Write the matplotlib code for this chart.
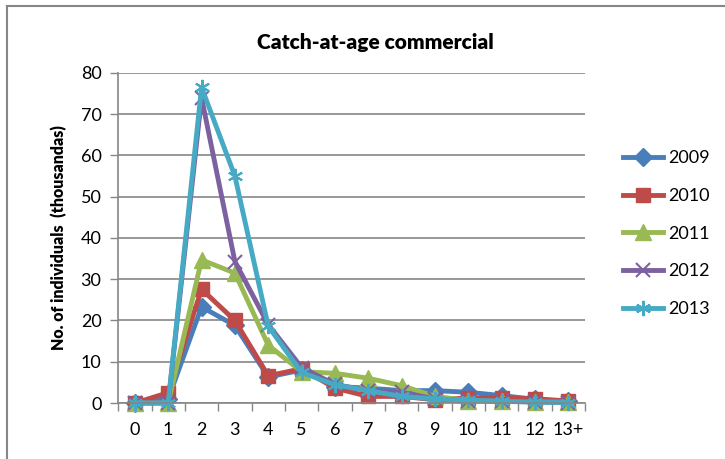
import matplotlib.pyplot as plt
from matplotlib.lines import Line2D

# --- データ ---
ages = ['0', '1', '2', '3', '4', '5', '6', '7', '8', '9', '10', '11', '12', '13+']
c2009 = [0, 1.0, 23.3, 18.8, 6.3, 8.0, 4.0, 3.6, 3.0, 3.0, 2.6, 1.8, 0.9, 0.4]
c2010 = [0, 2.5, 27.6, 20.0, 6.6, 8.3, 3.6, 1.6, 1.6, 0.8, 1.2, 1.2, 1.0, 0.5]
c2011 = [0, 0, 34.7, 31.5, 14.0, 7.6, 7.2, 6.0, 4.2, 1.6, 0.6, 0.4, 0.3, 0.2]
c2012 = [0, 0, 74.0, 34.3, 19.0, 8.6, 4.5, 3.0, 2.6, 1.0, 0.6, 0.4, 0.3, 0.1]
c2013 = [0, 0, 76.5, 55.0, 18.6, 7.4, 4.4, 3.0, 1.6, 1.0, 0.7, 0.4, 0.2, 0.1]
years = ['2009', '2010', '2011', '2012', '2013']

plt.rcParams['font.family'] = ['Lato', 'DejaVu Sans']

fig = plt.figure(figsize=(7.25, 4.59), dpi=100)
ax = fig.add_axes([0.163, 0.122, 0.644, 0.719])

styles = [
    ('#4A7EBB', 'D', 9),
    ('#BE4B48', 's', 10),
    ('#98B954', '^', 11),
    ('#7D60A0', 'x', 10),
    ('#46AAC5', (6, 2, 0), 11),
]
series = [c2009, c2010, c2011, c2012, c2013]
x = list(range(len(ages)))
for vals, yr, (col, mk, ms) in zip(series, years, styles):
    ax.plot(x, vals, color=col, lw=3.5, marker=mk, markersize=ms,
            markeredgewidth=1.5 if mk in ('x', (6, 2, 0)) else 1,
            markeredgecolor=col, markerfacecolor=col, label=yr,
            clip_on=False)

ax.set_xlim(-0.5, len(ages) - 0.5)
ax.set_ylim(0, 80)
ax.set_yticks(range(0, 81, 10))
ax.set_xticks(x)
ax.set_xticklabels(ages)
ax.set_xticks([i - 0.5 for i in range(len(ages) + 1)], minor=True)
ax.tick_params(axis='x', which='major', length=0, pad=14, labelsize=13)
ax.tick_params(axis='x', which='minor', length=6, color='#868686', width=1)
ax.tick_params(axis='y', length=6, color='#868686', width=1, labelsize=13, pad=6)
ax.grid(axis='y', color='#868686', lw=1.2)
ax.set_axisbelow(True)
for s in ['top', 'right']:
    ax.spines[s].set_visible(False)
for s in ['left', 'bottom']:
    ax.spines[s].set_color('#868686')
    ax.spines[s].set_linewidth(1.2)

ax.set_ylabel('No. of individuals  (thousandas)', fontsize=11.5, fontweight='heavy', labelpad=10)
fig.text(375 / 725, 1 - 43 / 459, 'Catch-at-age commercial', ha='center', va='center',
         fontsize=15, fontweight='heavy')

ax.legend(loc='upper left', bbox_to_anchor=(607 / 725, 1 - 134 / 459),
          bbox_transform=fig.transFigure, frameon=False, fontsize=13,
          handlelength=2.2, labelspacing=1.2, handletextpad=0.3)

# 外枠（上と左のみ）
fig.add_artist(Line2D([7 / 725, 1], [1 - 6 / 459, 1 - 6 / 459], color='#868686', lw=1.5,
                      transform=fig.transFigure))
fig.add_artist(Line2D([7 / 725, 7 / 725], [0, 1 - 6 / 459], color='#868686', lw=1.5,
                      transform=fig.transFigure))

fig.savefig('out.png', dpi=100)
